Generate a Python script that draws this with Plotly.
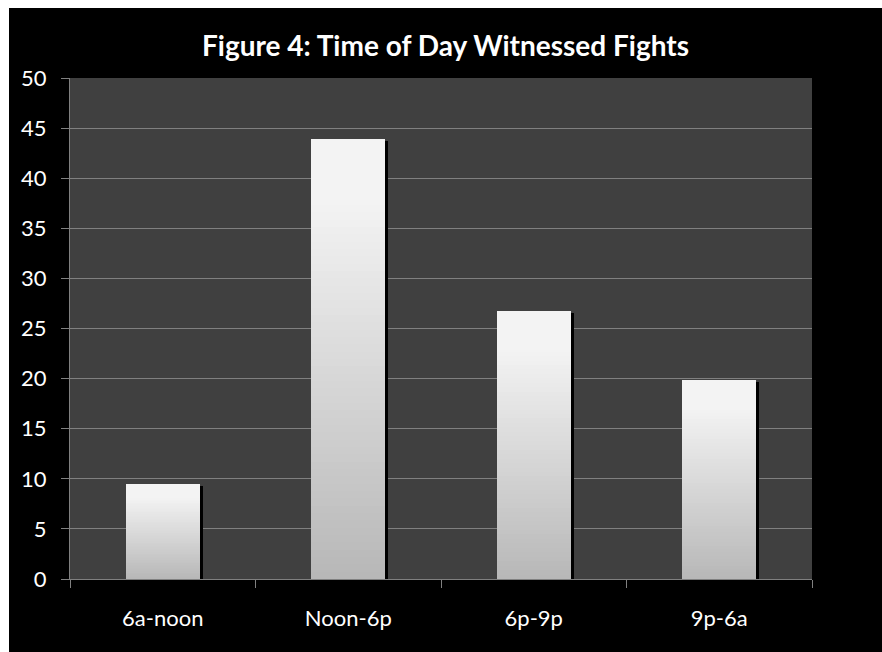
import plotly.graph_objects as go

# Share of witnessed fights by time of day
categories = ["6a-noon", "Noon-6p", "6p-9p", "9p-6a"]
values = [9.5, 43.9, 26.7, 19.9]
y_ticks = list(range(0, 51, 5))

W, H = 882, 652
M_L, M_R, M_T, M_B = 70, 70, 78, 73
plot_w = W - M_L - M_R
plot_h = H - M_T - M_B
y_max = 50

BAR_W = 0.4
SHADOW_DX = 3 / (plot_w / len(categories))   # category units
SHADOW_DY = 2 * y_max / plot_h               # data units

TOP_GRAY = 243
BOTTOM_GRAY = 184
N_STEPS = 60

fig = go.Figure()

# drop shadow behind each bar
fig.add_trace(go.Bar(
    x=categories,
    y=[v - SHADOW_DY for v in values],
    width=BAR_W,
    offset=-BAR_W / 2 + SHADOW_DX,
    marker=dict(color="#000000", line=dict(width=0)),
    hoverinfo="skip",
    showlegend=False,
))


def shade(frac_from_bottom):
    # light at the top, darker toward the base; top part stays nearly flat
    t = min(1.0, frac_from_bottom / 0.85)
    g = round(BOTTOM_GRAY + (TOP_GRAY - BOTTOM_GRAY) * t)
    return f"rgb({g},{g},{g})"


# vertical gradient: each layer starts higher and covers to the bar top
for k in range(N_STEPS):
    f = k / N_STEPS
    fig.add_trace(go.Bar(
        x=categories,
        base=[v * f for v in values],
        y=[v * (1 - f) for v in values],
        width=BAR_W,
        offset=-BAR_W / 2,
        marker=dict(color=shade(f), line=dict(width=0)),
        hoverinfo="skip" if k else "y",
        showlegend=False,
    ))

FONT = "Lato, 'Open Sans', sans-serif"
AXIS_GRAY = "#808080"

fig.update_layout(
    width=W,
    height=H,
    margin=dict(l=M_L, r=M_R, t=M_T, b=M_B, pad=0),
    paper_bgcolor="#000000",
    plot_bgcolor="#404040",
    barmode="overlay",
    bargap=0,
    font=dict(family=FONT, color="#ffffff", size=22),
    title=dict(
        text="<b>Figure 4: Time of Day Witnessed Fights</b>",
        x=445.5 / W,
        xanchor="center",
        y=1 - 46 / H,
        yanchor="middle",
        font=dict(family=FONT, size=28, color="#ffffff"),
    ),
    xaxis=dict(
        type="category",
        showgrid=False,
        showline=True,
        linecolor=AXIS_GRAY,
        linewidth=1,
        ticks="outside",
        tickson="boundaries",
        ticklen=8,
        tickcolor=AXIS_GRAY,
        tickwidth=1,
        ticklabelstandoff=20,
        tickfont=dict(size=22, color="#ffffff"),
        fixedrange=True,
    ),
    yaxis=dict(
        range=[0, y_max],
        tickvals=y_ticks,
        showgrid=True,
        gridcolor=AXIS_GRAY,
        gridwidth=1,
        zeroline=False,
        showline=True,
        linecolor=AXIS_GRAY,
        linewidth=1,
        ticks="outside",
        ticklen=8,
        tickcolor=AXIS_GRAY,
        tickwidth=1,
        ticklabelstandoff=10,
        tickfont=dict(size=22, color="#ffffff"),
        fixedrange=True,
    ),
    shapes=[
        # white page strips along the top and left edges
        dict(type="rect", xref="paper", yref="paper", layer="above",
             x0=-M_L / plot_w - 0.01, x1=(W - M_L) / plot_w + 0.01,
             y0=(plot_h + M_T - 8) / plot_h, y1=(plot_h + M_T) / plot_h + 0.01,
             fillcolor="#ffffff", line=dict(width=0)),
        dict(type="rect", xref="paper", yref="paper", layer="above",
             x0=-M_L / plot_w - 0.01, x1=-(M_L - 9) / plot_w,
             y0=-M_B / plot_h - 0.01, y1=(plot_h + M_T) / plot_h + 0.01,
             fillcolor="#ffffff", line=dict(width=0)),
    ],
)

fig.write_html("out.html", config={"displayModeBar": False})
